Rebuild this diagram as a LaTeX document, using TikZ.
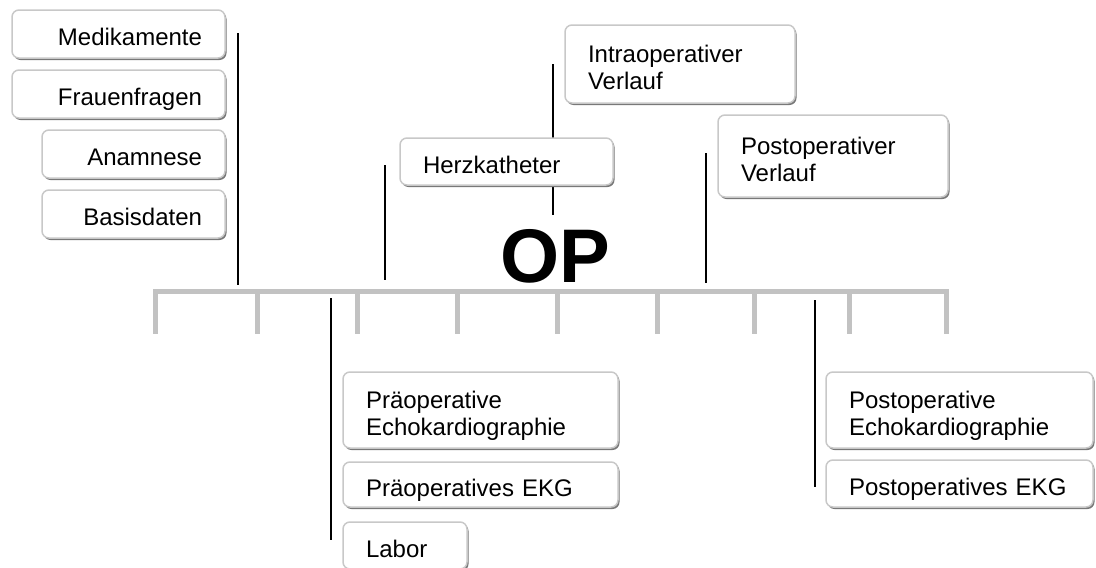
\documentclass[tikz,border=0pt]{standalone}
\usepackage{fontspec}
\setmainfont{Liberation Sans}
\usetikzlibrary{shadows}

\definecolor{barGray}{RGB}{194,194,194}
\definecolor{boxGray}{RGB}{200,200,200}
\definecolor{shadowGray}{RGB}{120,120,120}

\tikzset{
    tbox/.style={draw=boxGray, line width=1.5pt, rounded corners=7pt, fill=white,
        drop shadow={shadow xshift=1.5pt, shadow yshift=-2pt, fill=shadowGray, opacity=1},
        anchor=north west, outer sep=0pt, align=left, inner xsep=23pt, inner ysep=0pt,
        font=\fontsize{24}{27}\selectfont, text height=23pt, text depth=0pt},
    tboxr/.style={tbox, align=right},
    twoline/.style={text depth=26pt},
    tick/.style={barGray, line width=5pt, line cap=rect},
    drop/.style={black, line width=1.2pt}
}

\begin{document}
\begin{tikzpicture}[x=1pt,y=-1pt]

\useasboundingbox (0,0) rectangle (1096,568);

\foreach \i/\x in {1/155,2/257,3/357,4/457,5/557,6/657,7/754,8/849,9/946}
{
    \coordinate (tk\i) at (\x,291);
    \coordinate (tkb\i) at (\x,331);
    \draw[tick] (tk\i) -- (tkb\i);
};
\draw[tick] (tk1) -- (tk9);

\foreach \n/\x/\t/\b in
{a/238/33/285,
    b/385/165/280,
    c/553/64/215,
    d/706/153/283,
    e/331/298/540,
    f/815/300/487
}
{
    \coordinate (top\n) at (\x,\t);
    \coordinate (bot\n) at (\x,\b);
    \draw[drop] (top\n) -- (bot\n);
};

\node[tboxr, text width=167pt, minimum height=48pt] (medik) at (12,10) {Medikamente};
\node[tboxr, text width=167pt, minimum height=48pt] (frauen) at (12,70) {Frauenfragen};
\node[tboxr, text width=137pt, minimum height=48pt] (anam) at (42,130) {Anamnese};
\node[tboxr, text width=137pt, minimum height=48pt] (basis) at (42,190) {Basisdaten};

\node[tbox, text width=167pt, minimum height=47pt] (herzkath) at (400,138) {Herzkatheter};
\node[tbox, twoline, text width=184pt, minimum height=78pt] (intraop) at (565,25) {Intraoperativer\\Verlauf};
\node[tbox, twoline, text width=184pt, minimum height=82pt] (postverl) at (718,115) {Postoperativer\\Verlauf};

\node[font=\fontsize{76}{76}\selectfont\bfseries, anchor=base] (op) at (555,282) {OP};

\node[tbox, twoline, text width=229pt, minimum height=76pt] (praeecho) at (343,372) {Präoperative\\Echokardiographie};
\node[tbox, text width=229pt, minimum height=45pt] (praeekg) at (343,462) {Präoperatives EKG};
\node[tbox, text width=78pt, minimum height=47pt] (labor) at (343,522) {Labor};

\node[tbox, twoline, text width=221pt, minimum height=76pt] (postecho) at (826,372) {Postoperative\\Echokardiographie};
\node[tbox, text width=221pt, minimum height=47pt] (postekg) at (826,460) {Postoperatives EKG};

\end{tikzpicture}
\end{document}
